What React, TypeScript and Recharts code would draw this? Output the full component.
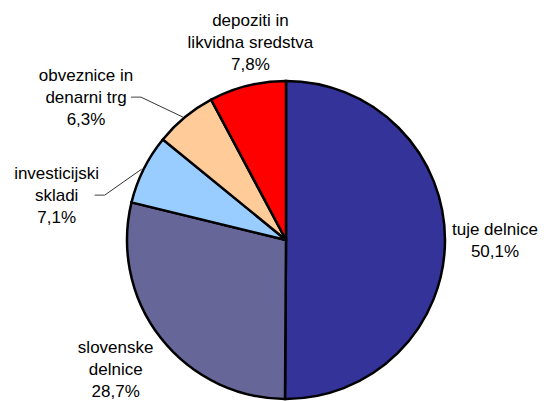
import { Pie, PieChart, Cell } from 'recharts'

const names = ['tuje delnice', 'slovenske delnice', 'investicijski skladi', 'obveznice in denarni trg', 'depoziti in likvidna sredstva']
const shares = [50.1, 28.7, 7.1, 6.3, 7.8]
const labelLines = [
  ['tuje delnice', '50,1%'],
  ['slovenske', 'delnice', '28,7%'],
  ['investicijski', 'skladi', '7,1%'],
  ['obveznice in', 'denarni trg', '6,3%'],
  ['depoziti in', 'likvidna sredstva', '7,8%'],
]
const colors = ['#333399', '#666699', '#99ccff', '#ffcc99', '#ff0000']

// label placement relative to the slice's outer edge point
const labelOffsets = [
  { dx: 50, dy: 0, leader: false },
  { dx: -45, dy: 32, leader: false },
  { dx: -87, dy: 26, leader: true, stub: 38 },
  { dx: -99, dy: -20, leader: true, stub: 45 },
  { dx: 3, dy: -43, leader: false },
]

const data = names.map((name, i) => ({ name, value: shares[i] }))
const RADIAN = Math.PI / 180
const LINE_H = 22

const renderLabel = (props: any) => {
  const { cx, cy, midAngle, outerRadius, index } = props
  const ex = cx + outerRadius * Math.cos(-midAngle * RADIAN)
  const ey = cy + outerRadius * Math.sin(-midAngle * RADIAN)
  const off = labelOffsets[index]
  const lx = ex + off.dx
  const ly = ey + off.dy
  const lines = labelLines[index]
  const top = ly - ((lines.length - 1) * LINE_H) / 2
  return (
    <g key={`lbl-${index}`}>
      {off.leader && (
        <g>
          <line x1={lx + off.stub!} y1={ly} x2={lx + off.stub! + 10} y2={ly} stroke="#808080" strokeWidth={1.5} />
          <line x1={lx + off.stub! + 10} y1={ly} x2={ex - 2} y2={ey} stroke="#333" strokeWidth={1} />
        </g>
      )}
      <text x={lx} y={top} textAnchor="middle" fontSize={17} fill="#000" fontFamily="'Liberation Sans', Arial, sans-serif">
        {lines.map((t, i) => (
          <tspan key={i} x={lx} y={top + i * LINE_H} dominantBaseline="central">
            {t}
          </tspan>
        ))}
      </text>
    </g>
  )
}

export default function App() {
  return (
    <div style={{ position: 'absolute', left: 0, top: 0, width: 549, height: 401, background: '#fff' }}>
      <PieChart width={549} height={401} margin={{ top: 0, right: 0, bottom: 0, left: 0 }}>
        <Pie
          data={data}
          dataKey="value"
          nameKey="name"
          cx={286}
          cy={240}
          outerRadius={159}
          startAngle={90}
          endAngle={-270}
          stroke="#000"
          strokeWidth={2.5}
          label={renderLabel}
          labelLine={false}
          isAnimationActive={false}
        >
          {data.map((d, i) => (
            <Cell key={d.name} fill={colors[i]} />
          ))}
        </Pie>
      </PieChart>
    </div>
  )
}
